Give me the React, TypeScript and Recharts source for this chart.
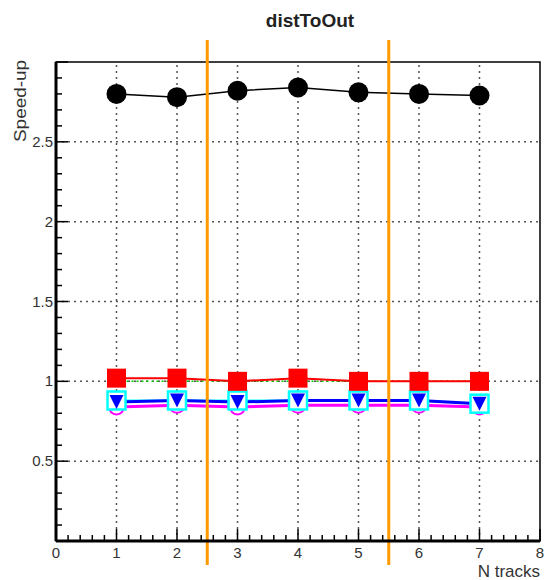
import { Line, LineChart, ReferenceArea, ReferenceLine, XAxis, YAxis } from "recharts";

const nTracks = [1, 2, 3, 4, 5, 6, 7];
const speedBlack = [2.8, 2.78, 2.82, 2.84, 2.81, 2.8, 2.79];
const speedRed = [1.02, 1.02, 1.0, 1.02, 1.0, 1.0, 1.0];
const speedGreen = [1.0, 1.0, 1.0, 1.0, 1.0, 1.0, 1.0];
const speedCyan = [0.88, 0.88, 0.88, 0.88, 0.88, 0.88, 0.86];
const speedBlue = [0.87, 0.88, 0.87, 0.88, 0.88, 0.88, 0.86];
const speedMagenta = [0.84, 0.85, 0.84, 0.85, 0.85, 0.85, 0.84];

const xMajorTicks = [0, 1, 2, 3, 4, 5, 6, 7, 8];
const yMajorTicks = [0.5, 1, 1.5, 2, 2.5];
const markerLines = [2.5, 5.5];

// minor tick positions (axis decoration only)
const xAllTicks: number[] = [];
for (let i = 0; i <= 40; i++) xAllTicks.push(Math.round(i * 2) / 10);
const yAllTicks: number[] = [];
for (let i = 0; i <= 30; i++) yAllTicks.push(Math.round(i) / 10);

const data = nTracks.map((n, i) => ({
  n,
  black: speedBlack[i],
  red: speedRed[i],
  green: speedGreen[i],
  cyan: speedCyan[i],
  blue: speedBlue[i],
  magenta: speedMagenta[i],
}));

const font = "'Liberation Sans', Arial, sans-serif";
const orange = "#ff9a00";

const isInt = (v: number) => Math.abs(v - Math.round(v)) < 1e-6;
const isHalf = (v: number) => Math.abs(v * 2 - Math.round(v * 2)) < 1e-6;

function XTick(props: any) {
  const { x, y, payload } = props;
  const v = payload.value as number;
  const major = isInt(v);
  return (
    <g>
      <line x1={x} x2={x} y1={y} y2={y - (major ? 12 : 6)} stroke='#000' strokeWidth={1.5} />
      {major && xMajorTicks.includes(v) && (
        <text x={x} y={y + 17} textAnchor='middle' fontSize={15} fill='#333' fontFamily={font}>
          {v}
        </text>
      )}
    </g>
  );
}

function YTick(props: any) {
  const { x, y, payload } = props;
  const v = payload.value as number;
  const major = isHalf(v);
  const label = yMajorTicks.find((t) => Math.abs(t - v) < 1e-6);
  return (
    <g>
      <line x1={x} x2={x + (major ? 12 : 6)} y1={y} y2={y} stroke='#000' strokeWidth={1.5} />
      {label !== undefined && (
        <text x={x - 3} y={y + 5} textAnchor='end' fontSize={15} fill='#333' fontFamily={font}>
          {label}
        </text>
      )}
    </g>
  );
}

const circle = (r: number, fill: string, stroke: string, sw = 0) => (p: any) =>
  <circle key={p.index} cx={p.cx} cy={p.cy} r={r} fill={fill} stroke={stroke} strokeWidth={sw} />;

const square = (s: number, fill: string, stroke: string, sw = 0) => (p: any) =>
  <rect key={p.index} x={p.cx - s / 2} y={p.cy - s / 2} width={s} height={s} fill={fill} stroke={stroke} strokeWidth={sw} />;

const triDown = (s: number, fill: string) => (p: any) =>
  <polygon key={p.index} points={`${p.cx - s / 2},${p.cy - s / 2} ${p.cx + s / 2},${p.cy - s / 2} ${p.cx},${p.cy + s / 2}`} fill={fill} />;

const orangeShape = (p: any) => <line x1={p.x1} x2={p.x2} y1={40} y2={565} stroke={orange} strokeWidth={3} />;

export default function App() {
  return (
    <div style={{ position: "relative", width: 545, height: 580 }}>
      <style>{`body{margin:0}`}</style>
      <LineChart width={545} height={580} data={data} margin={{ top: 62, right: 5, left: 6, bottom: 9 }}>
        <XAxis
          type='number'
          dataKey='n'
          domain={[0, 8]}
          ticks={xAllTicks}
          interval={0}
          tickSize={0}
          tickMargin={0}
          height={30}
          tick={XTick}
          axisLine={{ stroke: "#000", strokeWidth: 3 }}
        />
        <YAxis
          type='number'
          domain={[0, 3]}
          ticks={yAllTicks}
          interval={0}
          tickSize={0}
          tickMargin={0}
          width={50}
          tick={YTick}
          axisLine={{ stroke: "#000", strokeWidth: 3 }}
        />
        <ReferenceArea x1={0} x2={8} y1={0} y2={3} fill='none' stroke='#000' strokeWidth={1.5} />
        {xMajorTicks.slice(1, -1).map((t) => (
          <ReferenceLine key={`gx${t}`} x={t} stroke='#555' strokeWidth={1.5} strokeDasharray='2 4' />
        ))}
        {yMajorTicks.map((t) => (
          <ReferenceLine key={`gy${t}`} y={t} stroke='#555' strokeWidth={1.5} strokeDasharray='2 4' />
        ))}
        <Line dataKey='black' stroke='#000' strokeWidth={1.5} dot={circle(10, "#000", "#000")} isAnimationActive={false} />
        <Line dataKey='magenta' stroke='#ff00ff' strokeWidth={3} dot={circle(7.5, "#fff", "#ff00ff", 2)} isAnimationActive={false} />
        <Line dataKey='cyan' stroke='#00ffff' strokeWidth={2} dot={square(18, "#fff", "#00ffff", 2.5)} isAnimationActive={false} />
        <Line dataKey='blue' stroke='#0000ff' strokeWidth={3} dot={triDown(14, "#0000ff")} isAnimationActive={false} />
        <Line dataKey='green' stroke='#00cc00' strokeWidth={1.5} strokeDasharray='2 3' dot={false} isAnimationActive={false} />
        <Line dataKey='red' stroke='#ff0000' strokeWidth={2} dot={square(19, "#ff0000", "#ff0000")} isAnimationActive={false} />
        {markerLines.map((v) => (
          <ReferenceLine key={`o${v}`} x={v} stroke={orange} strokeWidth={3} shape={orangeShape} />
        ))}
      </LineChart>
      <svg width={545} height={580} style={{ position: "absolute", left: 0, top: 0, pointerEvents: "none" }}>
        <text x={310} y={27} textAnchor='middle' fontSize={19} fontWeight='bold' fill='#222' fontFamily={font}>
          distToOut
        </text>
        <text x={540} y={577} textAnchor='end' fontSize={17} fill='#333' fontFamily={font}>
          N tracks
        </text>
        <text
          transform='translate(26,60) rotate(-90)'
          textAnchor='end'
          fontSize={16}
          textLength={82}
          lengthAdjust='spacingAndGlyphs'
          fill='#333'
          fontFamily={font}
        >
          Speed-up
        </text>
      </svg>
    </div>
  );
}
